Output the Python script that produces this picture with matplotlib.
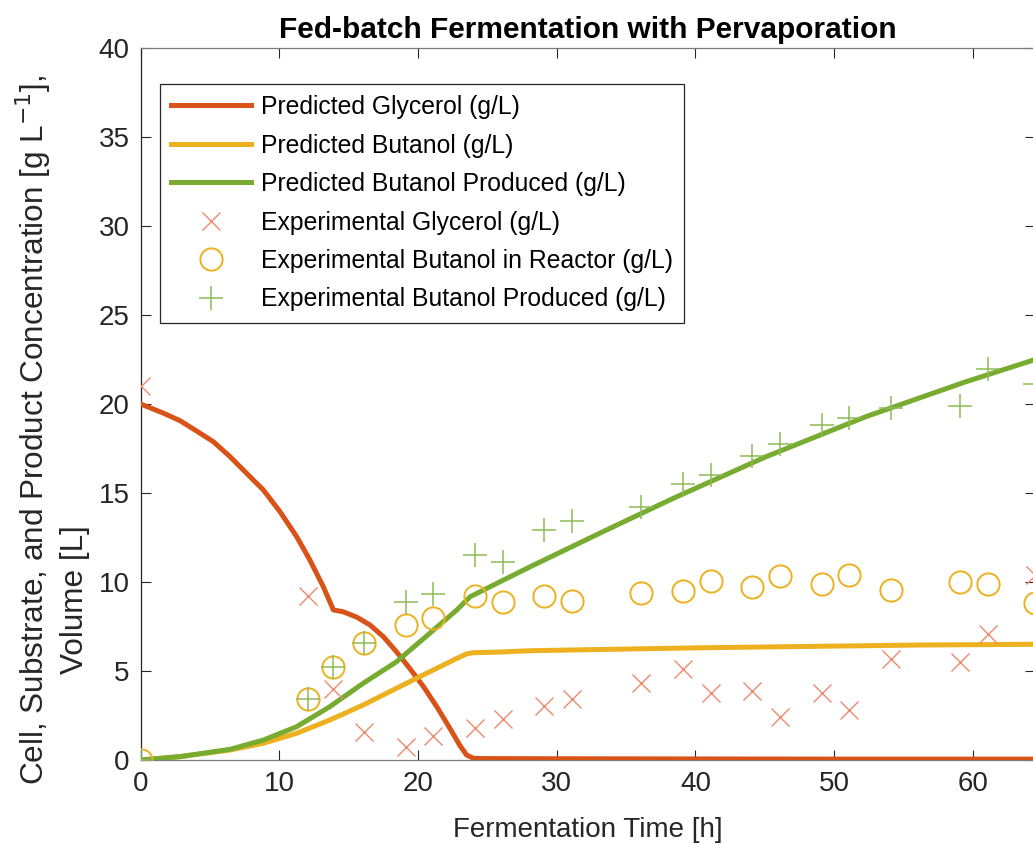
import matplotlib
matplotlib.use("Agg")
import matplotlib.pyplot as plt

plt.rcParams['font.family'] = ['Liberation Sans', 'DejaVu Sans']

# Model predictions (time in h, concentration in g/L)
pred_t_glycerol = [0, 1.6, 2.85, 4.0, 5.25, 6.45, 7.65, 8.85, 10.05, 11.25, 12.2, 13.17,
                   13.9, 14.6, 15.6, 16.55, 17.5, 18.45, 19.4, 20.4, 21.35, 22.3, 23.0,
                   23.5, 24.0, 24.7, 30, 40, 50, 64.5]
pred_glycerol = [20.0, 19.5, 19.06, 18.5, 17.88, 17.04, 16.1, 15.17, 13.95, 12.55, 11.24, 9.74,
                 8.43, 8.33, 8.02, 7.58, 6.93, 6.08, 5.15, 4.12, 3.0, 1.78, 0.84,
                 0.28, 0.1, 0.08, 0.07, 0.06, 0.05, 0.05]

pred_t_butanol = [0, 2.85, 6.45, 8.85, 11.25, 13.65, 16.05, 18.45, 20.85, 22.8, 23.5, 24.0,
                  25.7, 28.1, 40, 56.2, 64.5]
pred_butanol = [0, 0.19, 0.56, 0.94, 1.5, 2.25, 3.09, 4.03, 4.96, 5.71, 5.96, 6.03,
                6.06, 6.14, 6.3, 6.46, 6.5]

pred_t_produced = [0, 2.85, 6.45, 8.85, 11.25, 13.65, 16.05, 18.45, 20.85, 22.8, 23.75,
                   24.5, 25.7, 28.1, 33.1, 38.4, 45.1, 52.3, 59.5, 64.5]
pred_produced = [0, 0.19, 0.6, 1.12, 1.87, 3.0, 4.31, 5.52, 7.12, 8.43, 9.17,
                 9.46, 9.93, 10.86, 12.74, 14.7, 17.04, 19.29, 21.25, 22.5]

# Experimental measurements
exp_t = [0, 12.1, 13.9, 16.1, 19.1, 21.1, 24.1, 26.1, 29.1, 31.1, 36.1, 39.1,
         41.1, 44.1, 46.1, 49.1, 51.1, 54.1, 59.1, 61.1, 64.5]
exp_glycerol = [21.0, 9.2, 4.0, 1.6, 0.75, 1.35, 1.8, 2.3, 3.05, 3.4, 4.3, 5.1,
                3.75, 3.9, 2.4, 3.75, 2.8, 5.7, 5.5, 7.1, 10.4]
exp_butanol = [0, 3.4, 5.2, 6.55, 7.6, 8.0, 9.2, 8.85, 9.2, 8.95, 9.4, 9.5,
               10.05, 9.7, 10.35, 9.9, 10.4, 9.55, 10.0, 9.9, 8.8]
exp_produced = [0, 3.4, 5.2, 6.55, 8.9, 9.3, 11.5, 11.1, 12.9, 13.4, 14.2, 15.5,
                16.0, 17.1, 17.75, 18.8, 19.2, 19.75, 19.9, 21.95, 21.1]

x_ticks = [0, 10, 20, 30, 40, 50, 60]
y_ticks = [0, 5, 10, 15, 20, 25, 30, 35, 40]

c_red = '#D95319'
c_yel = '#EDB120'
c_grn = '#77AC30'
c_axis = '#262626'

W, H = 1033, 844
fig = plt.figure(figsize=(W / 100, H / 100), dpi=100)
ax = fig.add_axes([140.6 / W, (H - 760) / H, (1035.2 - 140.6) / W, (760 - 48) / H])

ax.plot(pred_t_glycerol, pred_glycerol, color=c_red, lw=3.6, label='Predicted Glycerol (g/L)',
        zorder=3, solid_joinstyle='round')
ax.plot(pred_t_butanol, pred_butanol, color=c_yel, lw=3.6, label='Predicted Butanol (g/L)',
        zorder=3, solid_joinstyle='round')
ax.plot(pred_t_produced, pred_produced, color=c_grn, lw=3.6, label='Predicted Butanol Produced (g/L)',
        zorder=3, solid_joinstyle='round')

ax.plot(exp_t, exp_glycerol, ls='none', marker='x', ms=12.5, mew=1.0, color='#EE8A6E',
        label='Experimental Glycerol (g/L)', zorder=4)
ax.plot(exp_t, exp_butanol, ls='none', marker='o', ms=16, mew=1.4, mfc='none', mec=c_yel,
        label='Experimental Butanol in Reactor (g/L)', zorder=4)
ax.plot(exp_t, exp_produced, ls='none', marker='+', ms=17, mew=1.1, color='#8DBB55',
        label='Experimental Butanol Produced (g/L)', zorder=4)

ax.set_xlim(0, 64.5)
ax.set_ylim(0, 40)
ax.set_xticks(x_ticks)
ax.set_yticks(y_ticks)
ax.tick_params(direction='in', length=7, width=0.8, colors=c_axis, labelsize=20,
               top=True, right=True, pad=8)
for side in ['left', 'right']:
    ax.spines[side].set_color(c_axis)
for side in ['top', 'bottom']:
    ax.spines[side].set_color('#7a7a7a')
for s in ax.spines.values():
    s.set_linewidth(0.9)

ax.set_title('Fed-batch Fermentation with Pervaporation', fontsize=21.5, fontweight='bold', pad=7)
ax.set_xlabel('Fermentation Time [h]', fontsize=20, color=c_axis, labelpad=14)

# two-line y label, each line placed on its own
fig.text(33 / W, 1 - 430 / H, 'Cell, Substrate, and Product Concentration [g L$^{-1}$],',
         rotation=90, ha='center', va='center', fontsize=22.7, color=c_axis)
fig.text(75 / W, 1 - 600 / H, 'Volume [L]',
         rotation=90, ha='center', va='center', fontsize=22.7, color=c_axis)

leg = ax.legend(loc='upper left', bbox_to_anchor=((160 - 140.6) / 894.6, (760 - 84) / 712),
                borderaxespad=0, fontsize=17.8, handlelength=3.25, handletextpad=0.4,
                labelspacing=0.585, fancybox=False, framealpha=1, edgecolor=c_axis,
                borderpad=0.45)
leg.get_frame().set_linewidth(0.9)

fig.savefig('out.png', dpi=100)
